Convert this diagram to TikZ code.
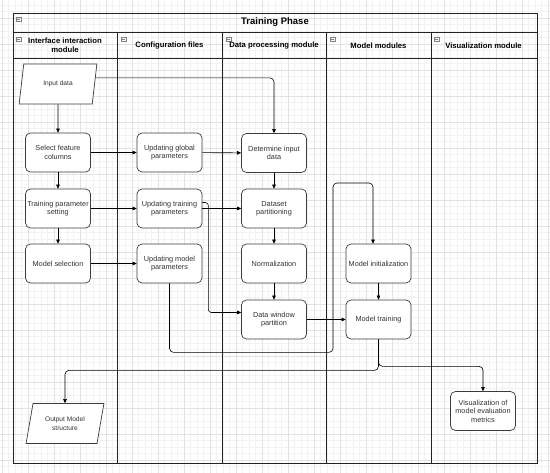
\documentclass[tikz,border=0pt]{standalone}
\usepackage{fontspec}
\setmainfont{Liberation Sans}
\usetikzlibrary{arrows.meta,calc,shapes.geometric}
\definecolor{frame}{RGB}{35,35,35}
\definecolor{boxline}{RGB}{60,60,60}
\definecolor{txt}{RGB}{50,50,50}
\definecolor{gridmin}{RGB}{242,242,242}
\definecolor{gridmaj}{RGB}{226,226,226}

\begin{document}
\begin{tikzpicture}[x=1pt,y=-1pt,>={Triangle[length=4pt,width=3.6pt]},
  block/.style={draw=boxline,fill=white,rounded corners=5pt,line width=0.7pt,minimum width=65pt,minimum height=39pt,inner sep=1pt,align=center,text=txt,font=\fontsize{7.3}{8.4}\selectfont},
  io/.style={draw=boxline,fill=white,line width=0.7pt,trapezium,trapezium left angle=72,trapezium right angle=108,trapezium stretches=true,minimum width=78pt,minimum height=40pt,inner sep=0pt,align=center,text=txt,font=\fontsize{6.6}{8.4}\selectfont},
  lane/.style={font=\bfseries\fontsize{7.7}{9.4}\selectfont,align=center},
  link/.style={->,line width=0.6pt,rounded corners=4pt}]
\useasboundingbox (0,0) rectangle (550,473);

% background grid
\begin{scope}
\clip (0,0) rectangle (550,473);
\draw[gridmin,line width=0.3pt,shift={(2pt,8pt)},step=6.5pt] (-13pt,-494pt) grid (560pt,13pt);
\draw[gridmaj,line width=0.4pt,shift={(2pt,8pt)},step=26pt] (-26pt,-494pt) grid (560pt,26pt);
\end{scope}

% swimlanes
\draw[frame,line width=0.9pt] (13,13) rectangle (537,463);
\draw[frame,line width=0.9pt] (13,32) -- (537,32) (13,58) -- (537,58);
\draw[frame,line width=0.9pt] (117,32) -- (117,463) (222,32) -- (222,463) (326,32) -- (326,463) (431,32) -- (431,463);

\draw[gray,line width=0.4pt] (16,17) rectangle ++(5,4.5) (17,19.3) -- ++(3,0);
\draw[gray,line width=0.4pt] (16,37) rectangle ++(5,4.5) (17,39.3) -- ++(3,0);
\draw[gray,line width=0.4pt] (121,37) rectangle ++(5,4.5) (122,39.3) -- ++(3,0);
\draw[gray,line width=0.4pt] (226,37) rectangle ++(5,4.5) (227,39.3) -- ++(3,0);
\draw[gray,line width=0.4pt] (330,37) rectangle ++(5,4.5) (331,39.3) -- ++(3,0);
\draw[gray,line width=0.4pt] (434,37) rectangle ++(5,4.5) (435,39.3) -- ++(3,0);

\node[lane,font=\bfseries\fontsize{9.5}{11}\selectfont] (title) at (275,22.5) {Training Phase};
\node[lane] (laneui) at (65,45) {Interface interaction\\module};
\node[lane] (lanecfg) at (169.5,45.5) {Configuration files};
\node[lane] (lanedata) at (274,45.5) {Data processing module};
\node[lane] (lanemodel) at (378.5,45.5) {Model modules};
\node[lane] (lanevis) at (483.5,45.5) {Visualization module};

% steps
\node[io] (in) at (58,84) {Input data};
\node[block] (sel) at (58,152.5) {Select feature\\columns};
\node[block] (tps) at (58,208.5) {Training parameter\\setting};
\node[block] (ms) at (58,263.5) {Model selection};
\node[io] (out) at (65,423.5) {Output Model\\structure};

\node[block] (glob) at (169.5,152.5) {Updating global\\parameters};
\node[block] (utp) at (169.5,208.5) {Updating training\\parameters};
\node[block] (ump) at (169.5,263.5) {Updating model\\parameters};

\node[block] (det) at (274,153) {Determine input\\data};
\node[block] (dsp) at (274,208.5) {Dataset\\partitioning};
\node[block] (norm) at (274,263.5) {Normalization};
\node[block] (dwp) at (274,319.5) {Data window\\partition};

\node[block] (mi) at (378.5,263.5) {Model initialization};
\node[block] (mt) at (378.5,319.5) {Model training};

\node[block] (vis) at (483,411) {Visualization of\\model evaluation\\metrics};

% links
\draw[link] (in.south) -- (sel.north);
\draw[link] ($(in.top right corner)!0.35!(in.bottom right corner)$) -| (det.north);
\draw[link] (sel) -- (glob);
\draw[link] (glob) -- (det);
\draw[link] (sel) -- (tps);
\draw[link] (tps) -- (ms);
\draw[link] (tps) -- (utp);
\draw[link] (utp) -- (dsp);
\draw[link] (ms) -- (ump);
\draw[link] (det) -- (dsp);
\draw[link] (dsp) -- (norm);
\draw[link] (norm) -- (dwp);
\draw[link,rounded corners=3pt] ([yshift=6pt]utp.east) -- ++(6,0) |- ([yshift=7pt]dwp.west);
\draw[link] (ump.south) -- ++(0,69) -| (333,183) -| ([xshift=-5.5pt]mi.north);
\draw[link] (dwp) -- (mt);
\draw[link] (mi) -- (mt);
\draw[link] (mt.south) -- ++(0,31) -| (out.north);
\draw[link] (mt.south) -- ++(0,27) -| (vis.north);

\end{tikzpicture}
\end{document}
